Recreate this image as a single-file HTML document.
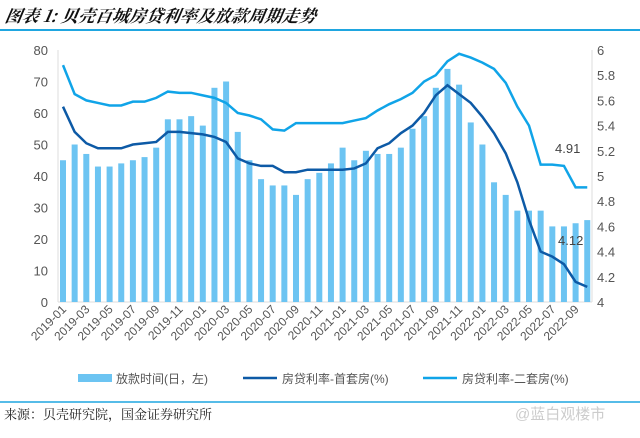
<!DOCTYPE html><html><head><meta charset="utf-8"><style>
body{margin:0;width:640px;height:433px;background:#fff;overflow:hidden;font-family:"Liberation Sans","Noto Sans CJK SC",sans-serif}
</style></head><body>
<svg width="640" height="433" xmlns="http://www.w3.org/2000/svg" font-family="Liberation Sans, Noto Sans CJK SC, sans-serif">
<text x="4" y="22" font-size="17" font-weight="bold" font-style="italic" fill="#111" font-family="Noto Serif CJK SC, serif" transform="skewX(-10) translate(4,0)">图表 1:  贝壳百城房贷利率及放款周期走势</text>
<line x1="0" y1="30" x2="640" y2="30" stroke="#1fa6e0" stroke-width="2"/>
<line x1="0" y1="402" x2="640" y2="402" stroke="#1fa6e0" stroke-width="1.5"/>
<text x="4" y="419" font-size="13" fill="#222" font-family="Noto Serif CJK SC, serif">来源：贝壳研究院，国金证券研究所</text>
<text x="515" y="419" font-size="15" fill="#ccc">@蓝白观楼市</text>
<g id="ax" font-size="13" fill="#555"></g>
<g id="bars" fill="#6cc4f2"></g>
<polyline id="l2" fill="none" stroke="#10a4e8" stroke-width="2.5"/>
<polyline id="l1" fill="none" stroke="#0d5aa6" stroke-width="2.5"/>
<text x="555" y="153" font-size="13" fill="#444">4.91</text>
<text x="558" y="245" font-size="13" fill="#444">4.12</text>
<g font-size="12" fill="#555">
<rect x="78" y="374" width="34" height="8" fill="#6cc4f2"/><text x="116" y="383">放款时间(日，左)</text>
<line x1="243" y1="378" x2="277" y2="378" stroke="#0d5aa6" stroke-width="2.5"/><text x="282" y="383">房贷利率-首套房(%)</text>
<line x1="423" y1="378" x2="457" y2="378" stroke="#10a4e8" stroke-width="2.5"/><text x="462" y="383">房贷利率-二套房(%)</text>
</g>
</svg>
<script>
var NS="http://www.w3.org/2000/svg";
function el(t,a,p,txt){var e=document.createElementNS(NS,t);for(var k in a)e.setAttribute(k,a[k]);if(txt)e.textContent=txt;p.appendChild(e);return e;}
var ax=document.getElementById('ax'),bars=document.getElementById('bars');
var y0=302,yt=50,h=y0-yt;
function yl(v){return y0-v/80*h}
function yr(v){return y0-(v-4)/2*h}
for(var i=0;i<=8;i++){var y=yl(i*10);el('text',{x:48,y:y+5,'text-anchor':'end'},ax,String(i*10));}
for(var i=0;i<=10;i++){var v=4+i*0.2;var y=yr(v);el('text',{x:597,y:y+5},ax,(i%5==0?String(v.toFixed(0)):v.toFixed(1)));}
el('line',{x1:58,y1:yt,x2:58,y2:y0,stroke:'#ddd'},ax);
el('line',{x1:58,y1:y0,x2:592,y2:y0,stroke:'#ddd'},ax);
el('line',{x1:592,y1:yt,x2:592,y2:y0,stroke:'#ddd'},ax);
var B=[45,50,47,43,43,44,45,46,49,58,58,59,56,68,70,54,45,39,37,37,34,39,41,44,49,45,48,47,47,49,55,59,68,74,69,57,50,38,34,29,29,29,24,24,25,26];
var F=[5.55,5.35,5.26,5.22,5.22,5.22,5.25,5.26,5.27,5.35,5.35,5.34,5.33,5.31,5.27,5.14,5.1,5.08,5.08,5.03,5.03,5.05,5.05,5.05,5.05,5.06,5.1,5.22,5.26,5.34,5.4,5.5,5.64,5.72,5.65,5.58,5.47,5.34,5.18,4.95,4.65,4.4,4.36,4.3,4.16,4.12];
var S=[5.88,5.65,5.6,5.58,5.56,5.56,5.59,5.59,5.62,5.67,5.66,5.66,5.64,5.62,5.58,5.5,5.48,5.45,5.37,5.36,5.42,5.42,5.42,5.42,5.42,5.44,5.46,5.52,5.57,5.61,5.66,5.75,5.8,5.91,5.97,5.94,5.9,5.85,5.74,5.55,5.4,5.09,5.09,5.08,4.91,4.91];
var x0=63,dx=11.65,p1=[],p2=[];
for(var i=0;i<46;i++){var x=x0+i*dx;
el('rect',{x:x-3,y:yl(B[i]),width:6,height:y0-yl(B[i])},bars);
p1.push(x+','+yr(F[i]));p2.push(x+','+yr(S[i]));
if(i%2==0&&i<=44){var yr_=2019+Math.floor(i/12),m=i%12+1;var lab=yr_+'-'+(m<10?'0':'')+m;
el('text',{x:x+4,y:310,'text-anchor':'end','font-size':'12',transform:'rotate(-45 '+(x+4)+' 310)'},ax,lab);}
}
document.getElementById('l1').setAttribute('points',p1.join(' '));
document.getElementById('l2').setAttribute('points',p2.join(' '));
</script>
</body></html>
